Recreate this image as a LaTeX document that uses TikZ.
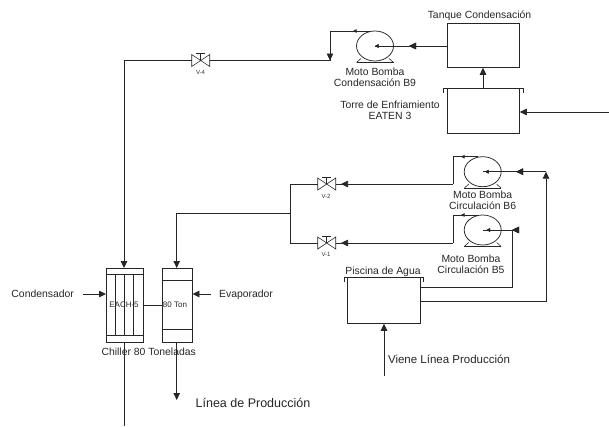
\documentclass[tikz,border=0pt]{standalone}
\usepackage{fontspec}
\setmainfont{Liberation Sans}
\usetikzlibrary{arrows.meta,decorations.markings,shapes.geometric}
\newcommand{\lblfont}{\fontsize{10.4}{12}\selectfont}
\newcommand{\pumpat}[3]{%
  \node[pumpbody] (#1) at (#2,#3) {};
  \coordinate (#1c) at (#2,#3);
  \coordinate (#1base) at (#2,#3+16.5);
  \draw[thinline] ([xshift=-18.5pt]#1base) -- ([xshift=18.5pt]#1base);
  \draw[thinline] ([xshift=-14pt,yshift=4pt]#1base) -- ([xshift=-18.5pt]#1base);
  \draw[thinline] ([xshift=14pt,yshift=4pt]#1base) -- ([xshift=18.5pt]#1base);
}
\newcommand{\valveat}[3]{%
  \node[valvebox] (#1) at (#2,#3) {};
  \draw[thinline] (#1.north west) -- (#1.center) -- (#1.south west) -- cycle;
  \draw[thinline] (#1.north east) -- (#1.center) -- (#1.south east) -- cycle;
  \draw[thinline] (#1.center) -- ++(0,-7) ++(-4.5,0) -- ++(9,0);
}
\tikzset{
  x=1pt,y=-1pt,
  pipe/.style={draw=black!85,line width=0.75pt},
  thinline/.style={draw=black!85,line width=0.6pt},
  box/.style={draw=black!85,line width=0.75pt,inner sep=0,rectangle,anchor=north west},
  pumpbody/.style={draw=black!85,line width=0.75pt,ellipse,inner sep=0,minimum width=37pt,minimum height=30pt},
  valvebox/.style={inner sep=0,outer sep=0,rectangle,minimum width=18pt,minimum height=12pt},
  label/.style={font=\lblfont,text=black!85,inner sep=0,align=center},
  tiny/.style={font=\fontsize{6}{7}\selectfont,text=black!80,inner sep=0},
  small/.style={font=\fontsize{8}{9}\selectfont,text=black!85,inner sep=0},
  tip/.style={-{Triangle[length=7pt,width=6.5pt]}},
  flow/.style={postaction={decorate},decoration={markings,mark=at position #1 with {\arrow{Triangle[length=7pt,width=6.5pt]}}}},
  flowsmall/.style={postaction={decorate},decoration={markings,mark=at position #1 with {\arrow{Triangle[length=3.5pt,width=3.5pt]}}}},
}
\begin{document}
\begin{tikzpicture}
\useasboundingbox (0,0) rectangle (609,426);

% Boxes
\node[box,minimum width=72pt,minimum height=44pt] (tank) at (447,23) {};
\node[box,minimum width=72pt,minimum height=45pt] (tower) at (447,88) {};
\node[box,minimum width=73pt,minimum height=46pt] (pool) at (347,277) {};
\node[box,minimum width=36.5pt,minimum height=73.5pt] (cond) at (106,268) {};
\node[box,minimum width=30pt,minimum height=73.5pt] (evap) at (161.7,268) {};

% Lips of open tanks
\draw[thinline] (443,92.5) -- (443,88) -- (523,88) -- (523,92.5);
\draw[thinline] (344.5,282) -- (344.5,277) -- (423,277) -- (423,282);

% Condenser internals
\draw[thinline] (106,274) -- (142.5,274) (106,335) -- (142.5,335);
\draw[thinline] (115,274) -- (115,335) (124,274) -- (124,335) (133.5,274) -- (133.5,335);
% Evaporator internals
\draw[thinline] (161.7,280.7) -- (191.7,280.7) (161.7,329) -- (191.7,329);

% Pumps and valves
\pumpat{bnine}{375}{46}
\pumpat{bsix}{482.7}{171.7}
\pumpat{bfive}{482.7}{230}
\valveat{vfour}{200.7}{60.5}
\valveat{vtwo}{326.7}{184}
\valveat{vone}{326.7}{243}

% Free ends and bends
\coordinate (towerin) at (609,112);
\coordinate (poolin) at (384,376);
\coordinate (condin) at (83,294);
\coordinate (evapin) at (211,294);
\coordinate (evapout) at (176.7,400);
\coordinate (condout) at (124,426);
\coordinate (junction) at (290.7,213);

% Upper circuit
\draw[pipe,tip] (tower.north -| 483,0) -- (tank.south -| 483,0);
\draw[pipe,tip] (towerin) -- (tower.east |- towerin);
\draw[pipe,flow=38pt,flowsmall=72pt] (tank.west |- bninec) -- (bninec);
\draw[pipe,flowsmall=18pt] (371,31) -- (330,31) -- (330,60.5);
\draw[pipe,tip] (330,31) -- (330,60.5);
\draw[pipe,flow=121pt] (330,60.5) -- (vfour.east);
\draw[pipe,tip] (vfour.west) -- (124,60.5) -- (124,268);

% Chiller
\draw[pipe] (cond.east |- 0,305) -- (evap.west |- 0,305);
\draw[pipe,tip] (condin) -- (cond.west |- condin);
\draw[pipe,tip] (evapin) -- (evap.east |- evapin);
\draw[pipe] (124,341.5) -- (condout);
\draw[pipe,tip] (176.7,341.5) -- (evapout);

% Circulation circuit
\draw[pipe,tip] (junction) -- (176.7,213) -- (176.7,268);
\draw[pipe] (vtwo.west) -- (290.7,184) -- (290.7,243) -- (vone.west);
\draw[pipe,flowsmall=17pt] (478,156.7) -- (453,156.7) -- (453,184);
\draw[pipe,flow=112pt] (453,184) -- (vtwo.east);
\draw[pipe,flowsmall=17pt] (478,215) -- (453,215) -- (453,243);
\draw[pipe,flow=112pt] (453,243) -- (vone.east);

\draw[pipe,tip] (pool.east |- 0,301.5) -- (546,301.5) -- (546,171.7);
\draw[pipe,flow=30pt,flowsmall=61pt] (546,171.7) -- (bsixc);
\draw[pipe] (pool.east |- 0,287) -- (512,287) -- (512,230);
\draw[pipe,flow=1.5pt,flowsmall=27pt] (513.5,230) -- (bfivec);
\draw[pipe,tip] (poolin) -- (pool.south -| poolin);

% Labels
\node[label] (ltank) at (479.5,15.5) {Tanque Condensación};
\node[label] (lbnine) at (375,77) {Moto Bomba\\[-1pt]Condensación B9};
\node[label] (ltower) at (390,110.5) {Torre de Enfriamiento\\[-1pt]EATEN 3};
\node[label] (lbsix) at (482.7,200) {Moto Bomba\\[-1pt]Circulación B6};
\node[label] (lbfive) at (471,264.5) {Moto Bomba\\[-1pt]Circulación B5};
\node[label] (lpool) at (383,271.5) {Piscina de Agua};
\node[label] (lcond) at (42.7,293.5) {Condensador};
\node[label] (levap) at (246,294.5) {Evaporador};
\node[label] (lchiller) at (148.7,351.5) {Chiller 80 Toneladas};
\node[label,font=\fontsize{12.5}{14}\selectfont] (lline) at (253,403) {Línea de Producción};
\node[label,font=\fontsize{11.5}{14}\selectfont] (lviene) at (449,359) {Viene Línea Producción};
\node[small] (leach) at (124,304.5) {EACH-5};
\node[small] (lton) at (175,304.5) {80 Ton};
\node[tiny] (lvfour) at (200.5,72) {V-4};
\node[tiny] (lvtwo) at (326,196.5) {V-2};
\node[tiny] (lvone) at (326,254.5) {V-1};
\end{tikzpicture}
\end{document}
